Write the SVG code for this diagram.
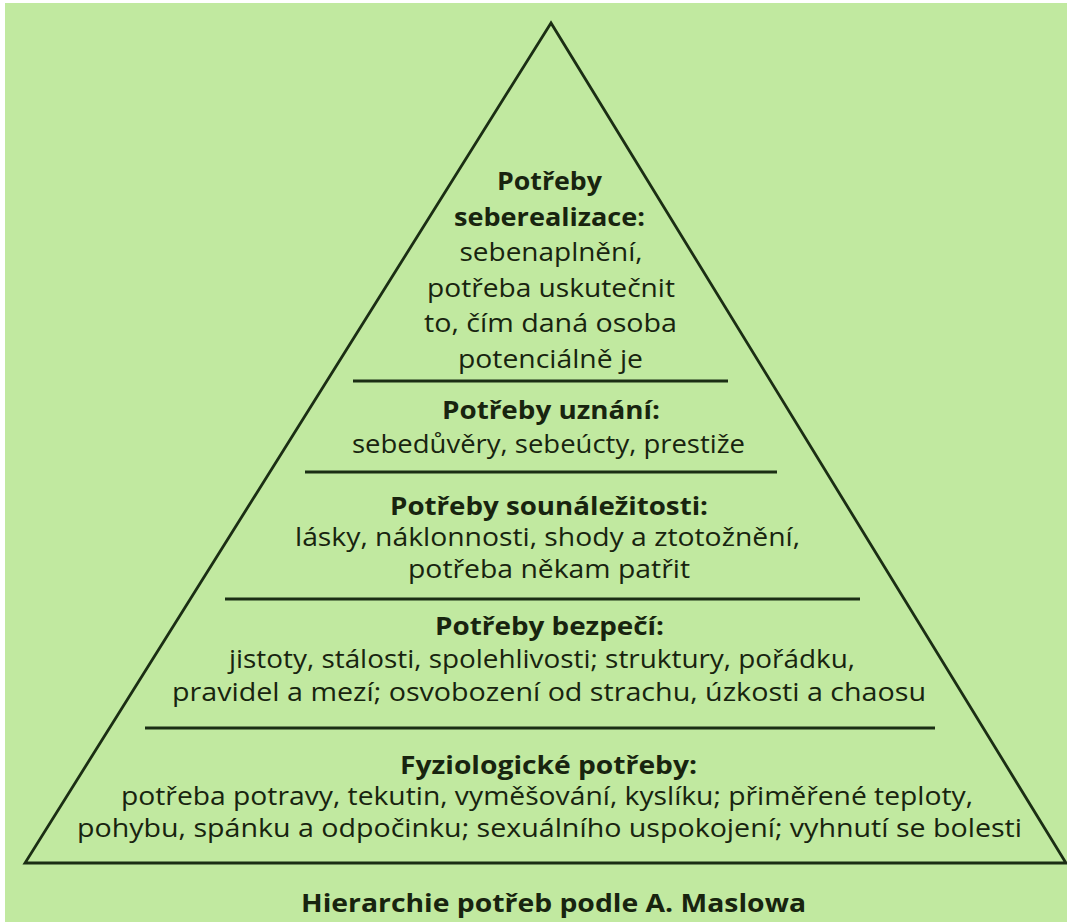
<svg xmlns="http://www.w3.org/2000/svg" width="1067" height="922" viewBox="0 0 1067 922">
<style>
text{font-family:"Open Sans","Noto Sans","Liberation Sans",sans-serif;font-size:25px;fill:#18240f;text-anchor:middle}
.b{font-weight:700}
.ln{stroke:#1b2e14;stroke-width:2.8;fill:none}
</style>
<rect x="0" y="0" width="1067" height="922" fill="#ffffff"/>
<rect x="5" y="3" width="1062" height="919" fill="#c1e9a0"/>
<g id="pyramid">
<polygon class="ln" points="551,23 25,863 1066,863" stroke-linejoin="miter"/>
<line class="ln" x1="353" y1="381" x2="728" y2="381"/>
<line class="ln" x1="305" y1="472" x2="777" y2="472"/>
<line class="ln" x1="225" y1="599" x2="860" y2="599"/>
<line class="ln" x1="145" y1="728" x2="935" y2="728"/>
</g>
<g id="level5-seberealizace">
<text class="b" x="549.5" y="190" textLength="105" lengthAdjust="spacingAndGlyphs">Potřeby</text>
<text class="b" x="549.5" y="226" textLength="191" lengthAdjust="spacingAndGlyphs">seberealizace:</text>
<text x="551" y="261" textLength="183" lengthAdjust="spacingAndGlyphs">sebenaplnění,</text>
<text x="551" y="297" textLength="248" lengthAdjust="spacingAndGlyphs">potřeba uskutečnit</text>
<text x="550.5" y="332" textLength="253" lengthAdjust="spacingAndGlyphs">to, čím daná osoba</text>
<text x="550.5" y="368" textLength="185" lengthAdjust="spacingAndGlyphs">potenciálně je</text>
</g>
<g id="level4-uznani">
<text class="b" x="551" y="419" textLength="218" lengthAdjust="spacingAndGlyphs">Potřeby uznání:</text>
<text x="548.5" y="453" textLength="393" lengthAdjust="spacingAndGlyphs">sebedůvěry, sebeúcty, prestiže</text>
</g>
<g id="level3-sounalezitost">
<text class="b" x="549" y="515" textLength="318" lengthAdjust="spacingAndGlyphs">Potřeby sounáležitosti:</text>
<text x="547.5" y="546" textLength="505" lengthAdjust="spacingAndGlyphs">lásky, náklonnosti, shody a ztotožnění,</text>
<text x="549" y="578" textLength="282" lengthAdjust="spacingAndGlyphs">potřeba někam patřit</text>
</g>
<g id="level2-bezpeci">
<text class="b" x="549.5" y="635" textLength="229" lengthAdjust="spacingAndGlyphs">Potřeby bezpečí:</text>
<text x="542" y="668" textLength="626" lengthAdjust="spacingAndGlyphs">jistoty, stálosti, spolehlivosti; struktury, pořádku,</text>
<text x="549" y="701" textLength="754" lengthAdjust="spacingAndGlyphs">pravidel a mezí; osvobození od strachu, úzkosti a chaosu</text>
</g>
<g id="level1-fyziologicke">
<text class="b" x="548.5" y="774" textLength="297" lengthAdjust="spacingAndGlyphs">Fyziologické potřeby:</text>
<text x="547" y="805" textLength="852" lengthAdjust="spacingAndGlyphs">potřeba potravy, tekutin, vyměšování, kyslíku; přiměřené teploty,</text>
<text x="549.5" y="837" textLength="945" lengthAdjust="spacingAndGlyphs">pohybu, spánku a odpočinku; sexuálního uspokojení; vyhnutí se bolesti</text>
</g>
<g id="caption">
<text class="b" x="553.5" y="912" textLength="505" lengthAdjust="spacingAndGlyphs">Hierarchie potřeb podle A. Maslowa</text>
</g>
</svg>
